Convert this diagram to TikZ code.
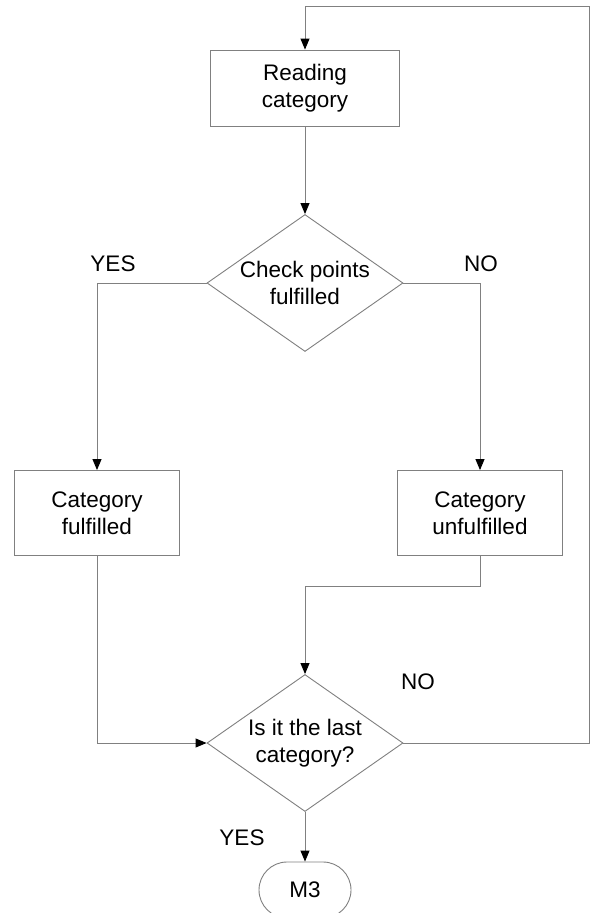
\documentclass[tikz,border=0pt]{standalone}
\usepackage{fontspec}
\setmainfont{Liberation Sans}
\usetikzlibrary{shapes.geometric,shapes.misc,arrows.meta}
\definecolor{linegray}{RGB}{128,128,128}
\begin{document}
\begin{tikzpicture}[x=1pt,y=-1pt,
  txt/.style={font=\fontsize{22.5}{27}\selectfont, align=center, text=black},
  line/.style={draw=linegray, line width=0.9pt},
  arr/.style={line, -{Triangle[length=11pt,width=9pt,color=black]}},
  procbox/.style={line, txt, inner sep=0pt, fill=white},
  decide/.style={line, txt, diamond, aspect=1.43, inner sep=0pt, minimum width=196pt, minimum height=137pt, fill=white},
  term/.style={line, txt, rounded rectangle, inner sep=0pt, minimum width=92pt, minimum height=56pt, fill=white},
  lbl/.style={txt, inner sep=0pt}]
\useasboundingbox (0,0) rectangle (590,913);
\clip (0,0) rectangle (590,913);
\fill[white] (0,0) rectangle (590,913);
\node[procbox, minimum width=189pt, minimum height=76pt] (read) at (305,88) {Reading\\category};
\node[decide] (chk) at (305,283) {Check points\\fulfilled};
\node[procbox, minimum width=165pt, minimum height=85pt] (ful) at (97,513) {Category\\fulfilled};
\node[procbox, minimum width=165pt, minimum height=85pt] (unf) at (480,513) {Category\\unfulfilled};
\node[decide] (last) at (305,743) {Is it the last\\category?};
\node[term] (m3) at (305,890) {M3};
\node[lbl] (yes1) at (113,264) {YES};
\node[lbl] (no1) at (481,264) {NO};
\node[lbl] (no2) at (418,682) {NO};
\node[lbl] (yes2) at (242,838) {YES};
\coordinate (mid) at (305,586);
\coordinate (tr) at (589,6);
\coordinate (tl) at (305,6);
\draw[arr] (read) -- (chk);
\draw[arr] (chk.west) -| (ful.north);
\draw[arr] (chk.east) -| (unf.north);
\draw[arr] (ful.south) |- (last.west);
\draw[arr] (unf.south) |- (mid) -- (last.north);
\draw[arr] (last.east) -| (tr) -- (tl) -- (read.north);
\draw[arr] (last) -- (m3);
\end{tikzpicture}
\end{document}
